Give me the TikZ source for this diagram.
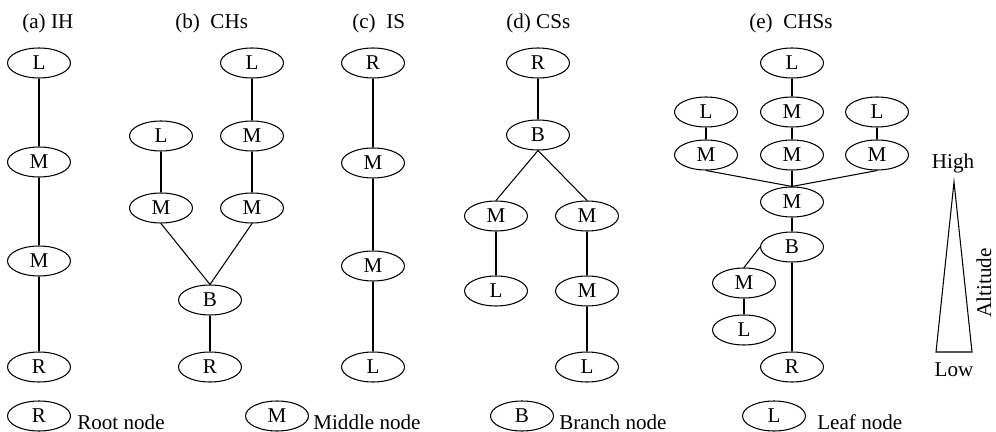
\documentclass[tikz,border=0pt]{standalone}
\usepackage{fontspec}
\setmainfont{Liberation Serif}
\usetikzlibrary{shapes.geometric,calc}

\tikzset{
  nd/.style={draw, ellipse, minimum width=1.26cm, minimum height=0.6cm, inner sep=0pt, line width=0.6pt},
  ttl/.style={anchor=base west, inner sep=0pt},
  ln/.style={line width=0.6pt}
}

\begin{document}
\begin{tikzpicture}[x=0.02cm,y=-0.02cm,font=\fontsize{12}{14}\selectfont]
				  \useasboundingbox (0,0) rectangle (996,432);
				  %TITLES
				  \node[ttl] (ta) at (22,29) {(a) IH};
				  \node[ttl] (tb) at (175,29) {(b)\ \ CHs};
				  \node[ttl] (tc) at (352,29) {(c)\ \ IS};
				  \node[ttl] (td) at (506,29) {(d) CSs};
				  \node[ttl] (te) at (749,29) {(e)\ \ CHSs};
				  %IH
				  \node[nd] (a1) at (39,63) {L};
				  \node[nd] (a2) at (39,162) {M};
				  \node[nd] (a3) at (39,261) {M};
				  \node[nd] (a4) at (39,367) {R};
				  \draw[ln] (a1) -- (a2) -- (a3) -- (a4);
				  %CHs
				  \node[nd] (b1) at (252,63) {L};
				  \node[nd] (b2) at (252,136) {M};
				  \node[nd] (b3) at (252,208) {M};
				  \node[nd] (b4) at (161,136) {L};
				  \node[nd] (b5) at (161,208) {M};
				  \node[nd] (b6) at (210,300) {B};
				  \node[nd] (b7) at (210,367) {R};
				  \draw[ln] (b1) -- (b2) -- (b3);
				  \draw[ln] (b4) -- (b5);
				  \draw[ln] (b5.south) -- (b6.north);
				  \draw[ln] (b3.south) -- (b6.north);
				  \draw[ln] (b6) -- (b7);
				  %IS
				  \node[nd] (c1) at (373,63) {R};
				  \node[nd] (c2) at (373,163) {M};
				  \node[nd] (c3) at (373,266) {M};
				  \node[nd] (c4) at (373,367) {L};
				  \draw[ln] (c1) -- (c2) -- (c3) -- (c4);
				  %CSs
				  \node[nd] (d1) at (538,63) {R};
				  \node[nd] (d2) at (538,135) {B};
				  \node[nd] (d3) at (496,216) {M};
				  \node[nd] (d4) at (587,216) {M};
				  \node[nd] (d5) at (496,291) {L};
				  \node[nd] (d6) at (587,291) {M};
				  \node[nd] (d7) at (587,367) {L};
				  \draw[ln] (d1) -- (d2);
				  \draw[ln] (d2.south) -- (d3.north);
				  \draw[ln] (d2.south) -- (d4.north);
				  \draw[ln] (d3) -- (d5);
				  \draw[ln] (d4) -- (d6) -- (d7);
				  %CHSs
				  \node[nd] (e1) at (792,63) {L};
				  \node[nd] (e2) at (706,112) {L};
				  \node[nd] (e3) at (792,112) {M};
				  \node[nd] (e4) at (877,112) {L};
				  \node[nd] (e5) at (706,155) {M};
				  \node[nd] (e6) at (792,155) {M};
				  \node[nd] (e7) at (877,155) {M};
				  \node[nd] (e8) at (792,202) {M};
				  \node[nd] (e9) at (792,247) {B};
				  \node[nd] (e10) at (744,283) {M};
				  \node[nd] (e11) at (744,330) {L};
				  \node[nd] (e12) at (792,367) {R};
				  \draw[ln] (e1) -- (e3) -- (e6) -- (e8) -- (e9);
				  \draw[ln] (e2) -- (e5);
				  \draw[ln] (e4) -- (e7);
				  \draw[ln] (e5.south) -- (e8.north);
				  \draw[ln] (e7.south) -- (e8.north);
				  \draw[ln] (e9.west) -- (e10.north);
				  \draw[ln] (e10) -- (e11);
				  \draw[ln] (e9) -- (e12);
				  %ALTITUDE
				  \coordinate (top) at (954,182);
				  \coordinate (bl) at (936,352);
				  \coordinate (br) at (972,352);
				  \draw[ln] (top) -- (bl) -- (br) -- cycle;
				  \node[anchor=base, inner sep=0pt] (high) at (953,169) {High};
				  \node[anchor=base, inner sep=0pt] (low) at (954,376) {Low};
				  \node[rotate=90, inner sep=0pt] (alt) at (984,283) {Altitude};
				  %LEGEND
				  \node[nd] (lr) at (39,416) {R};
				  \node[nd] (lm) at (277,416) {M};
				  \node[nd] (lb) at (522,416) {B};
				  \node[nd] (ll) at (774,416) {L};
				  \node[ttl] (tr) at (77,429) {Root node};
				  \node[ttl] (tm) at (313,429) {Middle node};
				  \node[ttl] (tbr) at (559,429) {Branch node};
				  \node[ttl] (tl) at (817,429) {Leaf node};
\end{tikzpicture}
\end{document}
